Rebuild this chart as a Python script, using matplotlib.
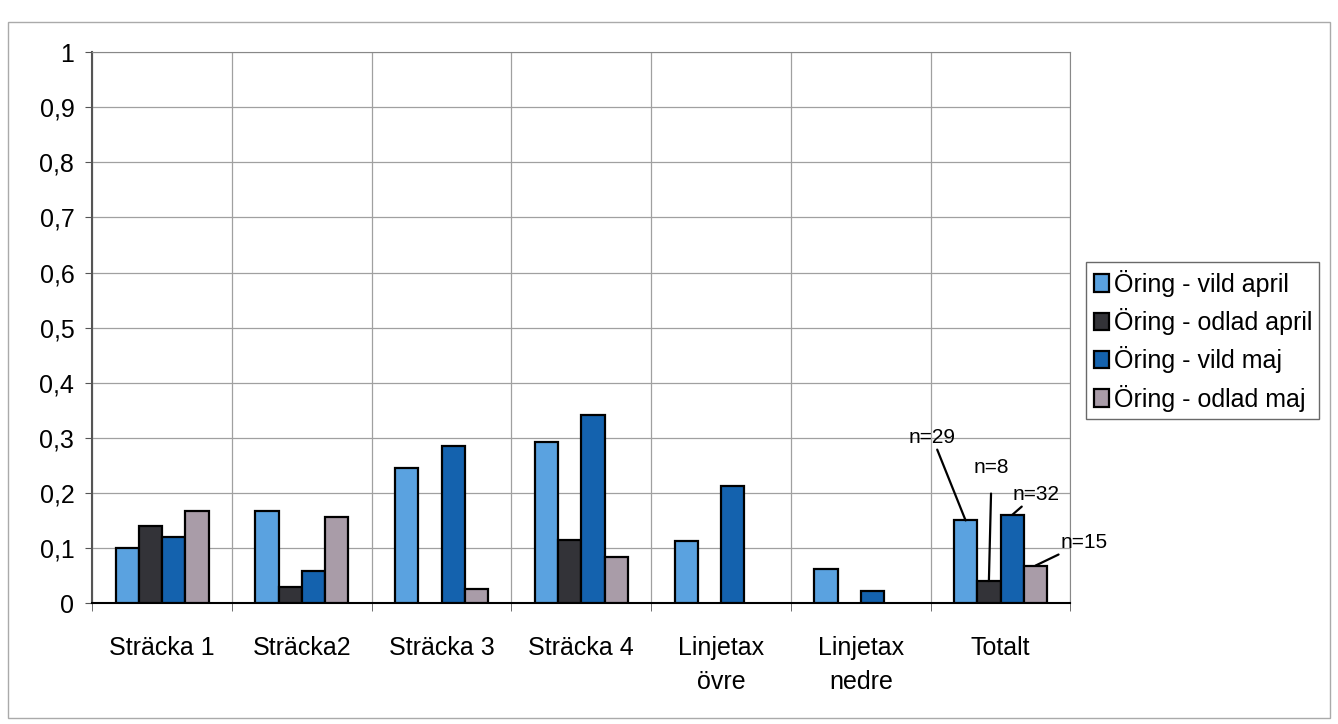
import matplotlib as mpl
mpl.use('Agg')
import matplotlib.pyplot as plt
import numpy as np

plt.rcdefaults()
plt.rcParams['font.family'] = ['Liberation Sans', 'DejaVu Sans']

categories = ["Sträcka 1", "Sträcka2", "Sträcka 3", "Sträcka 4",
              "Linjetax\növre", "Linjetax\nnedre", "Totalt"]
series_names = ["Öring - vild april", "Öring - odlad april",
                "Öring - vild maj", "Öring - odlad maj"]
vild_april = [0.10, 0.167, 0.245, 0.293, 0.113, 0.062, 0.15]
odlad_april = [0.14, 0.03, 0.0, 0.115, 0.0, 0.0, 0.04]
vild_maj = [0.12, 0.058, 0.285, 0.342, 0.213, 0.022, 0.16]
odlad_maj = [0.168, 0.157, 0.025, 0.083, 0.0, 0.0, 0.068]
n_labels = ["n=29", "n=8", "n=32", "n=15"]

colors = ["#5aa2e0", "#333338", "#1462ae", "#a99ca8"]
series = [vild_april, odlad_april, vild_maj, odlad_maj]

fig = plt.figure(figsize=(13.38, 7.24), dpi=100)
ax = fig.add_axes([0.069, 0.167, 0.731, 0.761])

x = np.arange(len(categories))
w = 1 / 6.0
graphs = []
for i, (vals, c, name) in enumerate(zip(series, colors, series_names)):
    lws = [1.6 if v > 0 else 0 for v in vals]
    g = ax.bar(x + (i - 1.5) * w, vals, w, color=c, edgecolor='black',
               linewidth=lws, label=name, zorder=3)
    graphs.append(g)

ax.set_xlim(-0.5, len(categories) - 0.5)
ax.set_ylim(0, 1)
ax.set_yticks(np.arange(0, 1.01, 0.1))
ax.set_yticklabels(["0"] + ["0,%d" % k for k in range(1, 10)] + ["1"], fontsize=18)
ax.set_xticks(x)
ax.set_xticklabels(categories, fontsize=18, linespacing=1.5)
ax.tick_params(axis='x', length=0, pad=24)
ax.tick_params(axis='y', length=5, direction='out', color='#555555', pad=8)

# gridlines: horizontal every 0.1, vertical between categories
ax.set_xticks(np.arange(-0.5, len(categories), 1), minor=True)
ax.tick_params(axis='x', which='minor', length=6, color='#555555')
ax.grid(True, axis='y', color='#a0a0a0', linewidth=0.9, zorder=0)
ax.grid(True, axis='x', which='minor', color='#a0a0a0', linewidth=0.9, zorder=0)
for side in ['top', 'right']:
    ax.spines[side].set_color('#888888')
ax.spines['left'].set_color('#555555')
ax.spines['left'].set_linewidth(1.5)
ax.spines['bottom'].set_linewidth(1.5)

# sample sizes for the Totalt group
last = len(categories) - 1
offsets = [(-24, 53), (2, 75), (17, 8), (35, 10)]
gaps = [0, 10, 0, 0]
for i, (txt, off, gap) in enumerate(zip(n_labels, offsets, gaps)):
    rect = graphs[i][last]
    bx = rect.get_x() + rect.get_width() / 2
    by = rect.get_height()
    ax.annotate(txt, xy=(bx, by), xytext=off, textcoords='offset points',
                fontsize=15, ha='center', va='bottom',
                arrowprops=dict(arrowstyle='-', color='black', lw=1.6,
                                shrinkA=gap, shrinkB=0))

leg = ax.legend(loc='center left', bbox_to_anchor=(1.016, 0.476), fontsize=18,
                frameon=True, fancybox=False, edgecolor='#444444',
                handlelength=0.6, handleheight=0.7, handletextpad=0.2,
                labelspacing=0.45, borderpad=0.3, borderaxespad=0)
leg.get_frame().set_linewidth(1.0)

# outer chart border
fig.patches.append(plt.Rectangle((0.006, 0.008), 0.988, 0.962, fill=False,
                                 edgecolor='#aaaaaa', linewidth=1.0,
                                 transform=fig.transFigure))

plt.savefig("out.png", dpi=100)
